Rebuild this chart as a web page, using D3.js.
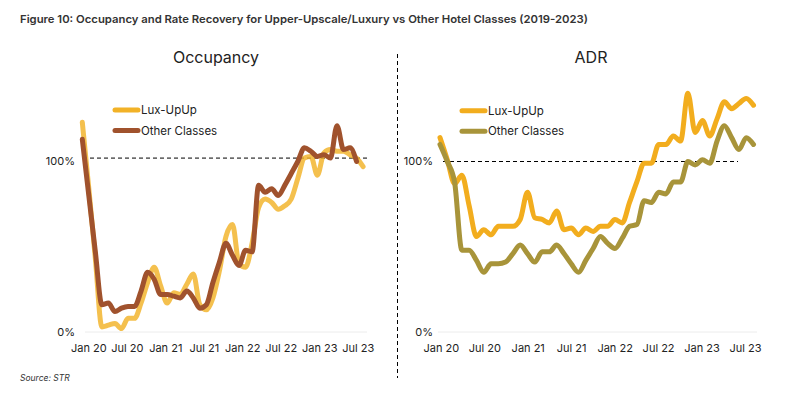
<!DOCTYPE html>
<html><head><meta charset="utf-8">
<script src="https://cdn.jsdelivr.net/npm/d3@7"></script>
<style>
body{margin:0;background:#fff;}
svg{display:block;font-family:Inter,"Noto Sans","DejaVu Sans",sans-serif;}
</style></head><body>
<svg id="c" width="792" height="394"></svg>
<script>
const tickLabels = ["Jan 20","Jul 20","Jan 21","Jul 21","Jan 22","Jul 22","Jan 23","Jul 23"];
const tickMonths = [0,6,12,18,24,30,36,42];
const seriesNames = ["Lux-UpUp","Other Classes"];
const yTicks = [0,100];

// Occupancy index (% of 2019), Jan 2020 onwards
const occLux = [123,84,43,3,4,5,2,8,8,17,29,38,27,17,23,22,28,34,16,13,20,36,56,63,40,38,52,73,78,76,72,74,78,90,102,103,92,105,107,106,106,104,102,97];
const occOther = [113,80,47,16,17,12,14,15,15,24,35,31,22,22,21,20,24,20,14,16,29,41,52,45,39,48,47,86,82,84,80,86,93,100,108,106,103,104,102,121,107,108,100];
// ADR index (% of 2019)
const adrLux = [114,101,87,92,74,56,60,57,62,62,62,66,82,67,66,64,71,60,61,57,61,59,62,62,66,64,76,88,99,99,110,110,115,112,140,117,124,115,125,135,131,134,137,133];
const adrOther = [110,100,88,48,48,42,35,40,40,41,46,51,46,41,47,47,51,46,40,35,42,49,56,52,49,55,62,63,77,76,82,81,88,88,100,98,101,99,112,121,114,107,114,110];

const svg = d3.select("#c");
const y = d3.scaleLinear().domain([0,100]).range([332,161.5]);
const ink = "#222";

svg.append("text").attr("x",20).attr("y",22.5)
  .attr("font-size",10.8).attr("font-weight",600).attr("fill","#333")
  .attr("textLength",568).attr("lengthAdjust","spacingAndGlyphs")
  .text("Figure 10: Occupancy and Rate Recovery for Upper-Upscale/Luxury vs Other Hotel Classes (2019-2023)");

svg.append("text").attr("x",20).attr("y",380.5).attr("font-size",8.5)
  .attr("font-style","italic").attr("fill","#333").text("Source: STR");

svg.append("line").attr("x1",397.5).attr("x2",397.5).attr("y1",54).attr("y2",378)
  .attr("stroke","#000").attr("stroke-width",1).attr("stroke-dasharray","4,3");

function panel(c){
  const g = svg.append("g");
  const x = d3.scaleLinear().domain([0,43]).range(c.xr);
  const xa = d3.scaleLinear().domain([0,42]).range(c.xa);
  g.append("text").attr("x",c.titleX).attr("y",63).attr("text-anchor","middle")
    .attr("font-size",16).attr("fill",ink).text(c.title);
  g.append("line").attr("x1",c.grid[0]).attr("x2",c.grid[1]).attr("y1",y(0)).attr("y2",y(0))
    .attr("stroke","#ececec").attr("stroke-width",1);
  g.selectAll(".yl").data(yTicks).join("text")
    .attr("x",c.yLabX).attr("y",d=>y(d)).attr("dy","0.35em").attr("text-anchor","end")
    .attr("font-size",11).attr("fill",ink).text(d=>d+"%");
  const ax = g.append("g").attr("transform",`translate(0,${y(0)})`)
    .call(d3.axisBottom(xa).tickValues(tickMonths).tickFormat((d,i)=>tickLabels[i]).tickSize(0).tickPadding(12));
  ax.select(".domain").remove();
  ax.selectAll("text").attr("font-size",11).attr("fill",ink).attr("font-family","Inter,'Noto Sans',sans-serif");
  g.append("line").attr("x1",c.dash[0]).attr("x2",c.dash[1]).attr("y1",y(c.ref)).attr("y2",y(c.ref))
    .attr("stroke","#000").attr("stroke-width",1).attr("stroke-dasharray","4,3");
  const line = d3.line().x((d,i)=>x(i)).y(d=>y(d)).curve(d3.curveMonotoneX);
  c.series.forEach(s=>{
    g.append("path").attr("d",line(s.values)).attr("fill","none")
      .attr("stroke",s.color).attr("stroke-opacity",s.op||1).attr("stroke-width",5)
      .attr("stroke-linejoin","round").attr("stroke-linecap","round");
  });
  c.series.forEach((s,i)=>{
    const ly = c.legY + i*20.5;
    g.append("line").attr("x1",c.legX).attr("x2",c.legX+23).attr("y1",ly).attr("y2",ly)
      .attr("stroke",s.legColor||s.color).attr("stroke-width",5).attr("stroke-linecap","round");
    g.append("text").attr("x",c.legX+26).attr("y",ly).attr("dy","0.35em")
      .attr("font-size",11.5).attr("fill",ink).text(seriesNames[i]);
  });
}

panel({title:"Occupancy", titleX:216, xr:[82.3,363.1], xa:[88.3,357.7],
  grid:[85,367], dash:[83,368], ref:102, yLabX:75, legX:115, legY:110,
  series:[{values:occLux,color:"#F2B227",op:0.82,legColor:"#F2B227"},{values:occOther,color:"#A0522D"}]});
panel({title:"ADR", titleX:591, xr:[440,753.5], xa:[440.8,745],
  grid:[438,757], dash:[443,738], ref:100, yLabX:433, legX:462, legY:110.7,
  series:[{values:adrLux,color:"#F2AD1E"},{values:adrOther,color:"#A8943A"}]});
</script></body></html>
